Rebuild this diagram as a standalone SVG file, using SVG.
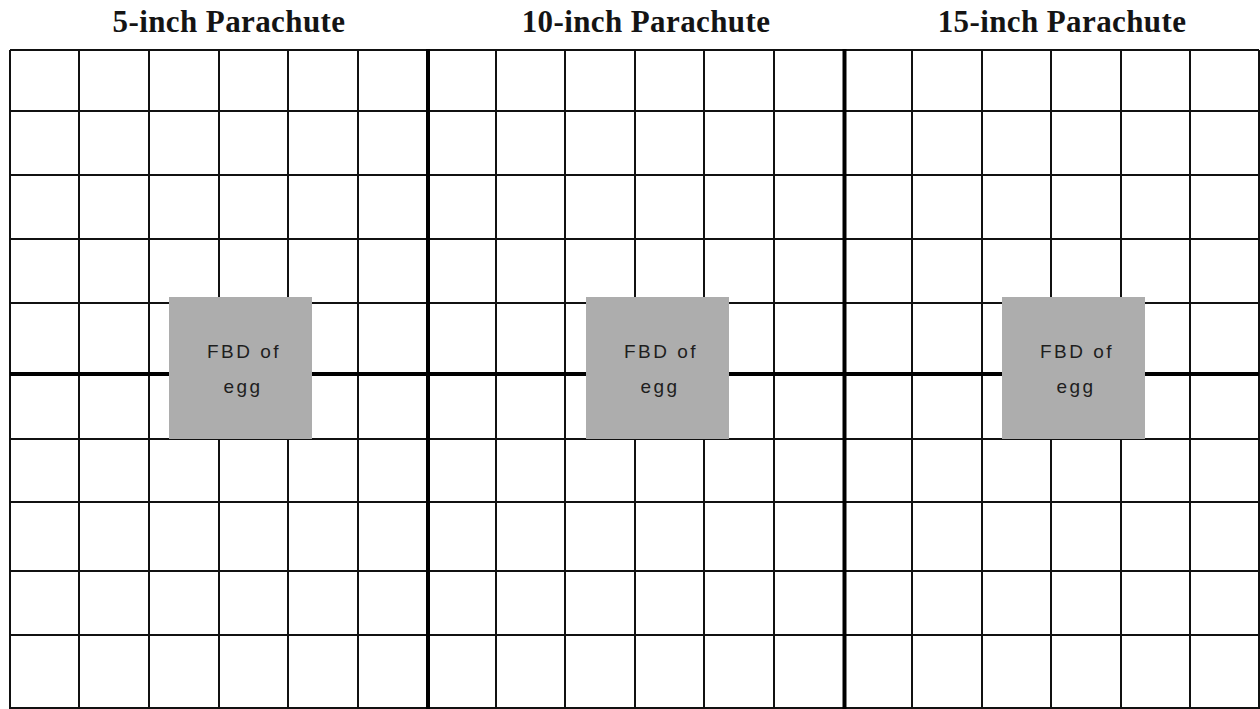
<svg xmlns="http://www.w3.org/2000/svg" width="1260" height="709" viewBox="0 0 1260 709">
<style>
.title{font-family:"Liberation Serif","Times New Roman",serif;font-weight:bold;font-size:31px;fill:#141414;text-anchor:middle;letter-spacing:0.4px}
.thin{stroke:#111;stroke-width:2;fill:none}
.thick{stroke:#000;stroke-width:4;fill:none}
.box{fill:#adadad}
.lbl{font-family:"Liberation Sans",Arial,sans-serif;font-size:19px;fill:#1e1e1e;text-anchor:middle;letter-spacing:2.5px}
</style>
<rect width="1260" height="709" fill="#fff"/>
<g id="titles">
<text class="title" x="229" y="32">5-inch Parachute</text>
<text class="title" x="646" y="32">10-inch Parachute</text>
<text class="title" x="1062" y="32">15-inch Parachute</text>
</g>
<g id="grid">
<path class="thin" d="M10,50H1259M10,111H1259M10,175H1259M10,239H1259M10,303H1259M10,439H1259M10,502H1259M10,571H1259M10,635H1259M10,708H1259"/>
<path class="thin" d="M10,50V709M79,50V709M149,50V709M219,50V709M288,50V709M358,50V709M496,50V709M565,50V709M635,50V709M704,50V709M774,50V709M912,50V709M982,50V709M1051,50V709M1121,50V709M1190,50V709M1259,50V709"/>
<path class="thick" d="M10,374H1259M428,49V709M844.5,49V709"/>
</g>
<g id="fbd1">
<rect class="box" x="169" y="297" width="143" height="142"/>
<text class="lbl" x="244" y="358">FBD of</text>
<text class="lbl" x="243" y="393">egg</text>
</g>
<g id="fbd2">
<rect class="box" x="586" y="297" width="143" height="142"/>
<text class="lbl" x="661" y="358">FBD of</text>
<text class="lbl" x="660" y="393">egg</text>
</g>
<g id="fbd3">
<rect class="box" x="1002" y="297" width="143" height="142"/>
<text class="lbl" x="1077" y="358">FBD of</text>
<text class="lbl" x="1076" y="393">egg</text>
</g>
</svg>
